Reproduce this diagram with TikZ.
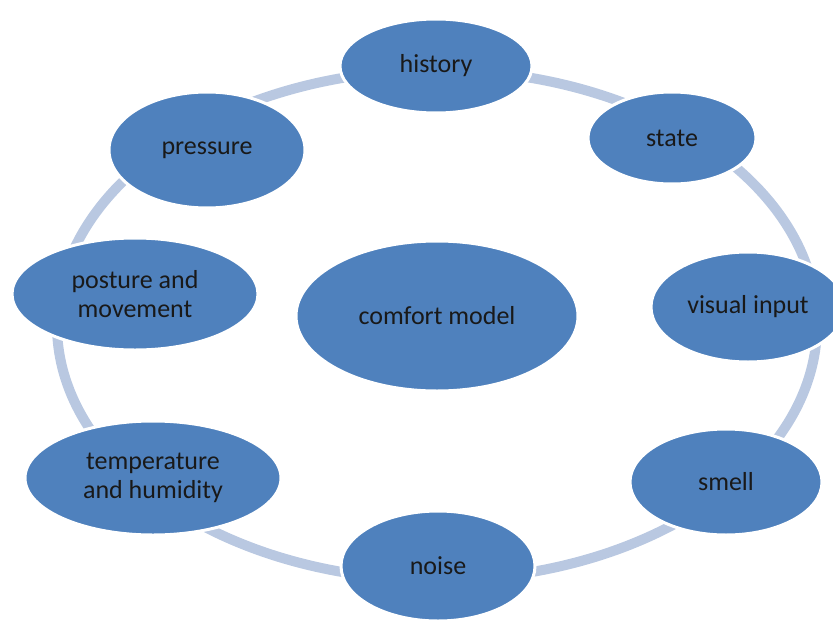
\documentclass[tikz,border=0pt]{standalone}
\usepackage{fontspec}
\setmainfont{Carlito}
\usetikzlibrary{shapes.geometric}
\definecolor{bubblefill}{HTML}{4F81BD}
\definecolor{ringblue}{HTML}{B9C8E1}
\tikzset{
  bubble/.style={ellipse, fill=bubblefill, draw=white, line width=3pt,
    inner sep=0pt, align=center, text=black!90,
    font=\fontsize{26}{29}\selectfont},
}
\begin{document}
\begin{tikzpicture}[x=1pt, y=-1pt]
\def \xring {437}
\def \yring {325}
\def \rxring {380}
\def \ryring {255}
\useasboundingbox (0,0) rectangle (833,624);
% ring
\draw [ringblue, line width=10pt] (\xring, \yring) ellipse [x radius=\rxring, y radius=\ryring];
% outer bubbles
\node [bubble, minimum width=192, minimum height=94]  (history)  at (436, 66)  {history};
\node [bubble, minimum width=168, minimum height=92]  (state)    at (672, 138) {state};
\node [bubble, minimum width=194, minimum height=110] (visual)   at (748, 307) {visual input};
\node [bubble, minimum width=192, minimum height=106] (smell)    at (726, 482) {smell};
\node [bubble, minimum width=194, minimum height=110] (noise)    at (438, 566) {noise};
\node [bubble, minimum width=256, minimum height=114] (temp)     at (153, 478) {temperature\\and humidity};
\node [bubble, minimum width=246, minimum height=112] (posture)  at (135, 294) {posture and\\movement};
\node [bubble, minimum width=196, minimum height=116] (pressure) at (207, 150) {pressure};
% centre
\node [bubble, minimum width=282, minimum height=150] (comfort)  at (437, 316) {comfort model};
\end{tikzpicture}
\end{document}
